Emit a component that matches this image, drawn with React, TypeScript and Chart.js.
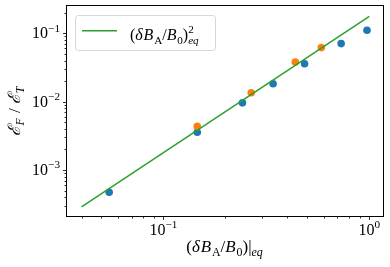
import { useEffect, useRef } from 'react';
import { Chart, registerables } from 'chart.js';

Chart.register(...registerables);

// ---- data ----
const blueX = [0.0545, 0.146, 0.242, 0.341, 0.485, 0.73, 0.975];
const blueY = [4.72e-4, 3.56e-3, 9.6e-3, 0.0183, 0.0359, 0.0707, 0.111];
const orangeX = [0.146, 0.267, 0.437, 0.585];
const orangeY = [4.36e-3, 0.0135, 0.038, 0.0618];
const fitX = [0.04, 1.0];
const fitY = [2.88e-4, 0.177];

const xMajorTicks = [0.1, 1];
const xMajorExp = ['−1', '0'];
const xMinorTicks = [0.04, 0.05, 0.06, 0.07, 0.08, 0.09, 0.2, 0.3, 0.4, 0.5, 0.6, 0.7, 0.8, 0.9];
const yMajorTicks = [1e-3, 1e-2, 1e-1];
const yMajorExp = ['−3', '−2', '−1'];
const yMinorTicks = [
  3e-4, 4e-4, 5e-4, 6e-4, 7e-4, 8e-4, 9e-4,
  2e-3, 3e-3, 4e-3, 5e-3, 6e-3, 7e-3, 8e-3, 9e-3,
  2e-2, 3e-2, 4e-2, 5e-2, 6e-2, 7e-2, 8e-2, 9e-2, 0.2,
];

const BLUE = '#1f77b4';
const ORANGE = '#ff7f0e';
const GREEN = '#2ca02c';
const FAMILY = '"Liberation Serif", "DejaVu Serif", serif';

type Tok = { t?: string; it?: boolean; s?: 'sub' | 'sup'; sup?: string; sub?: string; subIt?: boolean };

function fnt(size: number, it?: boolean) {
  return `${it ? 'italic ' : ''}${size}px ${FAMILY}`;
}

function measureTok(ctx: CanvasRenderingContext2D, tok: Tok, size: number) {
  const ss = size * 0.7;
  if (tok.sup !== undefined || tok.sub !== undefined) {
    ctx.font = fnt(ss, false);
    const a = ctx.measureText(tok.sup || '').width;
    ctx.font = fnt(ss, tok.subIt);
    const b = ctx.measureText(tok.sub || '').width;
    return Math.max(a, b) + 1;
  }
  const sz = tok.s ? ss : size;
  ctx.font = fnt(sz, tok.it);
  return ctx.measureText(tok.t || '').width + (tok.it ? size * 0.05 : 0);
}

function drawMath(
  ctx: CanvasRenderingContext2D,
  toks: Tok[],
  x: number,
  y: number,
  size: number,
  align: 'left' | 'center' | 'right'
) {
  const widths = toks.map((t) => measureTok(ctx, t, size));
  const total = widths.reduce((a, b) => a + b, 0);
  let cx = align === 'left' ? x : align === 'center' ? x - total / 2 : x - total;
  ctx.textAlign = 'left';
  ctx.textBaseline = 'alphabetic';
  ctx.fillStyle = '#000';
  const ss = size * 0.7;
  toks.forEach((tok, i) => {
    if (tok.sup !== undefined || tok.sub !== undefined) {
      ctx.font = fnt(ss, false);
      ctx.fillText(tok.sup || '', cx, y - size * 0.42);
      ctx.font = fnt(ss, tok.subIt);
      ctx.fillText(tok.sub || '', cx, y + size * 0.25);
    } else {
      const dy = tok.s === 'sub' ? size * 0.22 : tok.s === 'sup' ? -size * 0.42 : 0;
      ctx.font = fnt(tok.s ? ss : size, tok.it);
      ctx.fillText(tok.t || '', cx, y + dy);
    }
    cx += widths[i];
  });
}

const xTitle: Tok[] = [
  { t: '(' },
  { t: 'δ', it: true },
  { t: 'B', it: true },
  { t: 'A', s: 'sub' },
  { t: '/' },
  { t: 'B', it: true },
  { t: '0', s: 'sub' },
  { t: ')' },
  { t: '|' },
  { t: 'eq', s: 'sub', it: true },
];

const yTitle: Tok[] = [
  { t: 'ℰ', it: true },
  { t: 'F', s: 'sub', it: true },
  { t: ' / ' },
  { t: 'ℰ', it: true },
  { t: 'T', s: 'sub', it: true },
];

const legendLabel: Tok[] = [
  { t: '(' },
  { t: 'δ', it: true },
  { t: 'B', it: true },
  { t: 'A', s: 'sub' },
  { t: '/' },
  { t: 'B', it: true },
  { t: '0', s: 'sub' },
  { t: ')' },
  { sup: '2', sub: 'eq', subIt: true },
];

const axesPlugin = {
  id: 'mplAxes',
  afterDraw(chart: any) {
    const ctx: CanvasRenderingContext2D = chart.ctx;
    const { left, right, top, bottom } = chart.chartArea;
    const xs = chart.scales.x;
    const ys = chart.scales.y;
    ctx.save();

    // frame
    ctx.strokeStyle = '#000';
    ctx.lineWidth = 1;
    ctx.strokeRect(Math.round(left) - 0.5, Math.round(top) - 0.5, Math.round(right - left) + 1, Math.round(bottom - top) + 1);

    // ticks
    const bx = Math.round(bottom) + 0.5;
    const lx = Math.round(left) - 0.5;
    ctx.beginPath();
    xMajorTicks.forEach((v) => {
      const p = Math.round(xs.getPixelForValue(v)) + 0.5;
      ctx.moveTo(p, bx); ctx.lineTo(p, bx + 3.5);
    });
    xMinorTicks.forEach((v) => {
      const p = Math.round(xs.getPixelForValue(v)) + 0.5;
      ctx.moveTo(p, bx); ctx.lineTo(p, bx + 2);
    });
    yMajorTicks.forEach((v) => {
      const p = Math.round(ys.getPixelForValue(v)) + 0.5;
      ctx.moveTo(lx, p); ctx.lineTo(lx - 3.5, p);
    });
    yMinorTicks.forEach((v) => {
      const p = Math.round(ys.getPixelForValue(v)) + 0.5;
      ctx.moveTo(lx, p); ctx.lineTo(lx - 2, p);
    });
    ctx.lineWidth = 0.8;
    ctx.stroke();

    // tick labels
    xMajorTicks.forEach((v, i) => {
      const p = xs.getPixelForValue(v);
      drawMath(ctx, [{ t: '10' }, { t: xMajorExp[i], s: 'sup' }], p, bottom + 19, 16, 'center');
    });
    yMajorTicks.forEach((v, i) => {
      const p = ys.getPixelForValue(v);
      drawMath(ctx, [{ t: '10' }, { t: yMajorExp[i], s: 'sup' }], left - 7, p + 5, 16, 'right');
    });

    // axis titles
    drawMath(ctx, xTitle, (left + right) / 2, 252, 17, 'center');
    ctx.save();
    ctx.translate(20, (top + bottom) / 2);
    ctx.rotate(-Math.PI / 2);
    drawMath(ctx, yTitle, 0, 0, 17, 'center');
    ctx.restore();

    // legend
    const lx0 = 75.5, ly0 = 15.5, lw = 140, lh = 35, r = 3;
    ctx.beginPath();
    ctx.moveTo(lx0 + r, ly0);
    ctx.arcTo(lx0 + lw, ly0, lx0 + lw, ly0 + lh, r);
    ctx.arcTo(lx0 + lw, ly0 + lh, lx0, ly0 + lh, r);
    ctx.arcTo(lx0, ly0 + lh, lx0, ly0, r);
    ctx.arcTo(lx0, ly0, lx0 + lw, ly0, r);
    ctx.closePath();
    ctx.fillStyle = 'rgba(255,255,255,0.8)';
    ctx.fill();
    ctx.strokeStyle = '#d6d6d6';
    ctx.lineWidth = 1;
    ctx.stroke();
    ctx.beginPath();
    ctx.moveTo(82, 30.7);
    ctx.lineTo(117, 30.7);
    ctx.strokeStyle = GREEN;
    ctx.lineWidth = 1.5;
    ctx.stroke();
    drawMath(ctx, legendLabel, 130, 40, 16, 'left');

    ctx.restore();
  },
};

export default function App() {
  const ref = useRef<HTMLCanvasElement>(null);
  useEffect(() => {
    const chart = new Chart(ref.current as HTMLCanvasElement, {
      type: 'scatter',
      data: {
        datasets: [
          {
            label: 'fit',
            data: fitX.map((x, i) => ({ x, y: fitY[i] })),
            showLine: true,
            borderColor: GREEN,
            borderWidth: 1.5,
            pointRadius: 0,
            order: 0,
          } as any,
          {
            label: 'orange',
            data: orangeX.map((x, i) => ({ x, y: orangeY[i] })),
            backgroundColor: ORANGE,
            borderWidth: 0,
            pointRadius: 3.8,
            order: 1,
          },
          {
            label: 'blue',
            data: blueX.map((x, i) => ({ x, y: blueY[i] })),
            backgroundColor: BLUE,
            borderWidth: 0,
            pointRadius: 3.8,
            order: 2,
          },
        ],
      },
      options: {
        responsive: false,
        animation: false,
        devicePixelRatio: 1,
        events: [],
        layout: { padding: { left: 67, top: 6, right: 7, bottom: 51 } },
        scales: {
          x: { type: 'logarithmic', min: 0.034, max: 1.166, display: false },
          y: { type: 'logarithmic', min: 2.12e-4, max: 0.251, display: false },
        },
        plugins: { legend: { display: false }, tooltip: { enabled: false } },
      },
      plugins: [axesPlugin],
    });
    return () => chart.destroy();
  }, []);
  return (
    <div style={{ position: 'absolute', left: 0, top: 0, width: 390, height: 267 }}>
      <canvas ref={ref} width={390} height={267} style={{ display: 'block' }} />
    </div>
  );
}
